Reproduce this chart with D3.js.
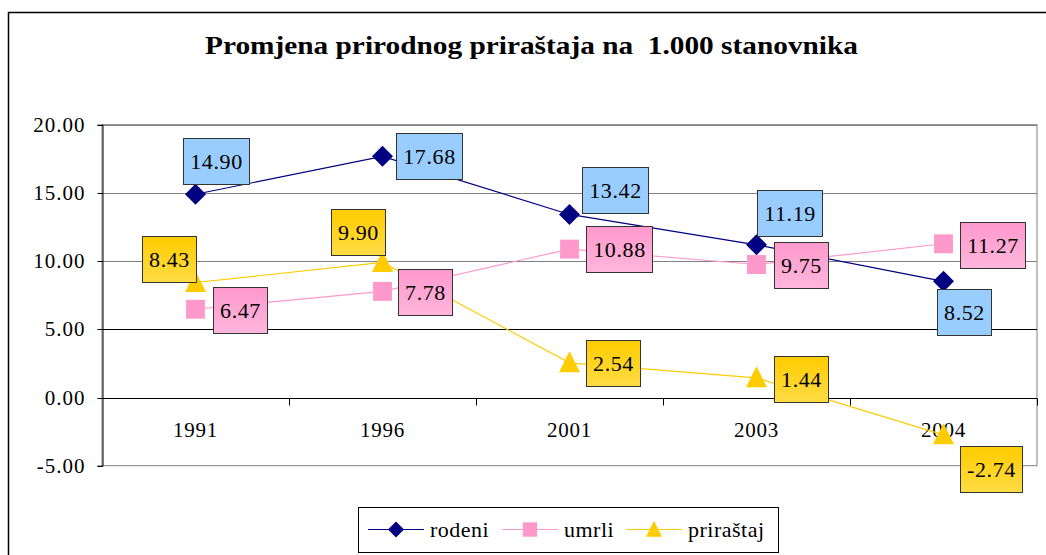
<!DOCTYPE html>
<html><head><meta charset="utf-8">
<script src="https://cdn.jsdelivr.net/npm/d3@7"></script>
<style>
html,body{margin:0;padding:0;background:#fff;}
svg{display:block;}
</style></head>
<body>
<svg id="c" width="1046" height="555" font-family="Liberation Serif"></svg>
<script>
const categories = ["1991","1996","2001","2003","2004"];
const rodeni    = [14.90, 17.68, 13.42, 11.19, 8.52];
const umrli     = [6.47, 7.78, 10.88, 9.75, 11.27];
const prirastaj = [8.43, 9.90, 2.54, 1.44, -2.74];
const seriesNames = ["rodeni","umrli","priraštaj"];
const yTicks = [-5, 0, 5, 10, 15, 20];
const titleText = "Promjena prirodnog priraštaja na\u00a0 1.000 stanovnika";

// label box placement (left, top offsets from marker centre)
const labelOffsets = [
  [[-13,-56],[13,-23],[12,-47],[0,-55],[-7,8]],
  [[17,-22],[15,-22],[16,-23],[17,-23],[16,-22]],
  [[-54,-47],[-52,-53],[16,-23],[17,-22],[16,11]]
];
const styles = [
  {line:"#000080", marker:"diamond", mfill:"#000080", box:["#99CCFF","#99CCFF"]},
  {line:"#FF99CC", marker:"square", mfill:"#FF99CC", box:["#FF99CC","#FFB6DC"]},
  {line:"#FFCC00", marker:"triangle", mfill:"#FFCC00", box:["#FFCC00","#FFDC45"]}
];
const seriesData = [rodeni, umrli, prirastaj];
const FONT = "Liberation Serif";
const fmt = v => d3.format(".2f")(v).replace("\u2212","-");

const svg = d3.select("#c");
const L = 102, R = 1037, T = 124.7, B = 465.7;

const defs = svg.append("defs");
styles.forEach((s,i)=>{
  const g = defs.append("linearGradient").attr("id","g"+i).attr("x1",0).attr("y1",0).attr("x2",0).attr("y2",1);
  g.append("stop").attr("offset","0%").attr("stop-color",s.box[0]);
  g.append("stop").attr("offset","100%").attr("stop-color",s.box[1]);
});

// outer chart border
svg.append("rect").attr("x",8.5).attr("y",12.5).attr("width",1060).attr("height",570)
  .attr("fill","none").attr("stroke","#000").attr("stroke-width",1.5);

// title
svg.append("text").attr("x",531.5).attr("y",54).attr("text-anchor","middle")
  .attr("font-family",FONT).attr("font-size",25).attr("font-weight","bold")
  .attr("textLength",653).attr("lengthAdjust","spacingAndGlyphs").text(titleText);

const x = d3.scaleBand().domain(categories).range([L,R]);
const y = d3.scaleLinear().domain([-5,20]).range([B,T]);

// plot area border
svg.append("rect").attr("x",L).attr("y",T).attr("width",R-L).attr("height",B-T)
  .attr("fill","none").attr("stroke","#808080").attr("stroke-width",1);

// gridlines
svg.append("g").selectAll("line").data(yTicks.filter(v=>v!==0 && v!==-5)).join("line")
  .attr("x1",L).attr("x2",R).attr("y1",d=>Math.round(y(d))+0.5).attr("y2",d=>Math.round(y(d))+0.5)
  .attr("stroke",d=>d===5?"#000":"#808080").attr("stroke-width",1);

// y axis
const yAxis = d3.axisLeft(y).tickValues(yTicks).tickFormat(fmt).tickSize(5).tickPadding(12);
const ya = svg.append("g").attr("transform",`translate(${L+0.5},0)`).call(yAxis);
ya.attr("font-family",FONT);
ya.select(".domain").attr("stroke","#000");
ya.selectAll(".tick line").attr("stroke","#000");
ya.selectAll(".tick text").attr("font-size",21).attr("letter-spacing",1).attr("font-family",FONT).attr("fill","#000");
ya.selectAll(".tick").attr("transform",d=>`translate(0,${Math.round(y(d))+0.5})`);

// x axis at zero
const y0 = Math.round(y(0))+0.5;
svg.append("line").attr("x1",L).attr("x2",R).attr("y1",y0).attr("y2",y0).attr("stroke","#000");
const bounds = categories.slice(1).map(c=>x(c)).concat([R]);
svg.append("g").selectAll("line").data(bounds).join("line")
  .attr("x1",d=>Math.round(d)+0.5).attr("x2",d=>Math.round(d)+0.5)
  .attr("y1",y0).attr("y2",y0+7).attr("stroke","#000");
svg.append("g").selectAll("text").data(categories).join("text")
  .attr("x",d=>x(d)+x.bandwidth()/2).attr("y",y0+38).attr("text-anchor","middle")
  .attr("font-family",FONT).attr("font-size",21).attr("letter-spacing",0.8).text(d=>d);

const cx = d=>x(d)+x.bandwidth()/2;

function marker(g, type, fill, size){
  if(type==="diamond"){
    g.append("path").attr("d",d3.symbol(d3.symbolSquare, size*size/2)()).attr("transform","rotate(45)").attr("fill",fill);
  } else if(type==="square"){
    g.append("rect").attr("x",-size*0.45).attr("y",-size*0.45).attr("width",size*0.9).attr("height",size*0.9).attr("fill",fill);
  } else {
    const h = size;
    g.append("path").attr("d",`M0,${-h*0.55}L${size/2},${h*0.45}L${-size/2},${h*0.45}Z`).attr("fill",fill);
  }
}

// lines
seriesData.forEach((vals,si)=>{
  const line = d3.line().x((d,i)=>cx(categories[i])).y(d=>y(d));
  svg.append("path").datum(vals).attr("d",line).attr("fill","none")
    .attr("stroke",styles[si].line).attr("stroke-width",1.2);
});
// markers
seriesData.forEach((vals,si)=>{
  vals.forEach((v,i)=>{
    const g = svg.append("g").attr("transform",`translate(${cx(categories[i])},${y(v)})`);
    marker(g, styles[si].marker, styles[si].mfill, 21);
  });
});
// labels
seriesData.forEach((vals,si)=>{
  vals.forEach((v,i)=>{
    const px = cx(categories[i]), py = y(v);
    const [dx,dy] = labelOffsets[si][i];
    const g = svg.append("g").attr("transform",`translate(${Math.round(px+dx)+0.5},${Math.round(py+dy)+0.5})`);
    const rect = g.append("rect").attr("fill",`url(#g${si})`).attr("stroke","#333").attr("stroke-width",1);
    const t = g.append("text").attr("font-family",FONT).attr("font-size",22).attr("letter-spacing",0.6).text(fmt(v));
    const w = t.node().getComputedTextLength();
    const bw = Math.round(w + 13), bh = 46;
    rect.attr("width",bw).attr("height",bh);
    t.attr("x",bw/2).attr("y",bh/2+7.5).attr("text-anchor","middle");
  });
});

// legend
const lg = svg.append("g");
lg.append("rect").attr("x",358.5).attr("y",507.5).attr("width",420).attr("height",45)
  .attr("fill","#fff").attr("stroke","#000").attr("stroke-width",1);
const legX = [368, 502, 626];
seriesNames.forEach((n,si)=>{
  const g = lg.append("g").attr("transform",`translate(${legX[si]},529.5)`);
  g.append("line").attr("x1",0).attr("x2",56).attr("stroke",styles[si].line).attr("stroke-width",1.2);
  const mg = g.append("g").attr("transform","translate(28,0)");
  marker(mg, styles[si].marker, styles[si].mfill, 16);
  g.append("text").attr("x",62).attr("y",7).attr("font-family",FONT).attr("font-size",22).attr("letter-spacing",0.5).text(n);
});
</script>
</body></html>
